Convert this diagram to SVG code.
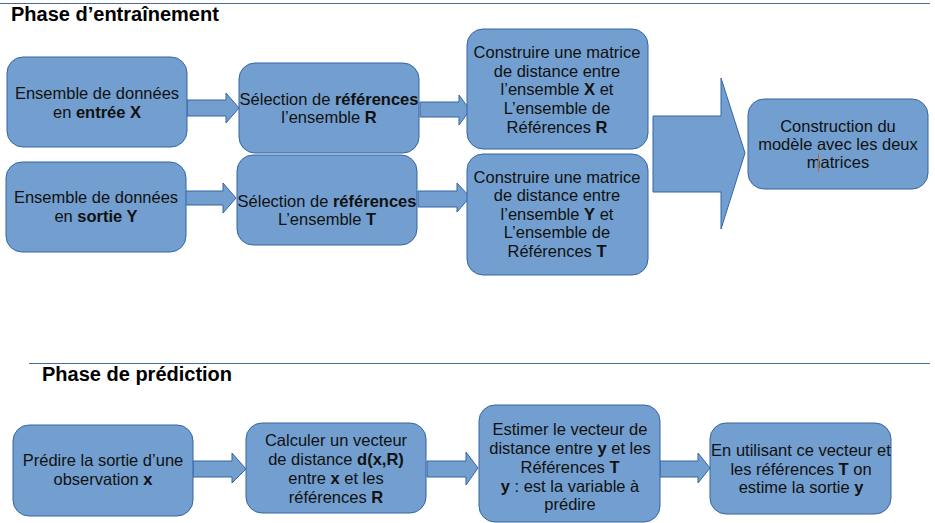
<svg xmlns="http://www.w3.org/2000/svg" width="935" height="523" viewBox="0 0 935 523">
<style>
  .box { fill: #729fcf; stroke: #3465a4; stroke-width: 1; }
  .arr { fill: #729fcf; stroke: #3465a4; stroke-width: 1; stroke-linejoin: miter; }
  .t { font-family: "Liberation Sans", Arial, sans-serif; font-size: 16.5px; fill: #111; text-anchor: middle; }
  .h { font-family: "Liberation Sans", Arial, sans-serif; font-size: 20px; font-weight: bold; fill: #000; }
  .b { font-weight: bold; }
  .rule { stroke: #4a6a9a; stroke-width: 1; }
</style>
<rect width="935" height="523" fill="#ffffff"/>

<line class="rule" x1="0" y1="3.5" x2="930" y2="3.5"/>
<text class="h" x="11" y="21">Phase d’entraînement</text>
<line class="rule" x1="29" y1="363.5" x2="930" y2="363.5"/>
<text class="h" x="42" y="381">Phase de prédiction</text>

<g id="connectors">
  <path class="arr" d="M187,100 H226 V93 L239,108 L226,123 V116 H187 Z"/>
  <path class="arr" d="M184,191 H223 V183 L236,198 L223,213 V205 H184 Z"/>
  <path class="arr" d="M420,102 H459 V95 L470,110 L459,125 V117 H420 Z"/>
  <path class="arr" d="M418,191 H457 V183 L470,197 L457,212 V207 H418 Z"/>
  <path class="arr" d="M653,116 H721 V78 L745,153 L721,229 V192 H653 Z"/>
  <path class="arr" d="M193,461 H232 V453 L246,469 L232,483 V477 H193 Z"/>
  <path class="arr" d="M427,461 H466 V452 L478,468 L466,485 V477 H427 Z"/>
  <path class="arr" d="M660,461 H698 V453 L710,468 L698,483 V477 H660 Z"/>
</g>

<g id="n1">
  <rect class="box" x="7" y="57" width="180" height="90" rx="16"/>
  <text class="t" x="97" y="99">Ensemble de données</text>
  <text class="t" x="97" y="118">en <tspan class="b">entrée X</tspan></text>
</g>
<g id="n2">
  <rect class="box" x="239" y="63" width="180" height="90" rx="16"/>
  <text class="t" x="329" y="105">Sélection de <tspan class="b">références</tspan></text>
  <text class="t" x="329" y="123">l’ensemble <tspan class="b">R</tspan></text>
</g>
<g id="n3">
  <rect class="box" x="6" y="162" width="180" height="90" rx="16"/>
  <text class="t" x="96" y="203">Ensemble de données</text>
  <text class="t" x="96" y="222">en <tspan class="b">sortie Y</tspan></text>
</g>
<g id="n4">
  <rect class="box" x="237" y="155" width="180" height="90" rx="16"/>
  <text class="t" x="327" y="207">Sélection de <tspan class="b">références</tspan></text>
  <text class="t" x="327" y="225">L’ensemble <tspan class="b">T</tspan></text>
</g>
<g id="n5">
  <rect class="box" x="467" y="29" width="181" height="120" rx="16"/>
  <text class="t" x="557" y="58">Construire une matrice</text>
  <text class="t" x="557" y="77">de distance entre</text>
  <text class="t" x="557" y="95">l’ensemble <tspan class="b">X</tspan> et</text>
  <text class="t" x="557" y="114">L’ensemble de</text>
  <text class="t" x="557" y="133">Références <tspan class="b">R</tspan></text>
</g>
<g id="n6">
  <rect class="box" x="467" y="154" width="181" height="121" rx="16"/>
  <text class="t" x="557" y="183">Construire une matrice</text>
  <text class="t" x="557" y="201">de distance entre</text>
  <text class="t" x="557" y="220">l’ensemble <tspan class="b">Y</tspan> et</text>
  <text class="t" x="557" y="238">L’ensemble de</text>
  <text class="t" x="557" y="257">Références <tspan class="b">T</tspan></text>
</g>
<g id="n7">
  <rect class="box" x="748" y="99" width="180" height="90" rx="16"/>
  <text class="t" x="838" y="132">Construction du</text>
  <text class="t" x="838" y="150">modèle avec les deux</text>
  <text class="t" x="838" y="168">matrices</text>
  <line x1="818.5" y1="154" x2="818.5" y2="172" stroke="#c8642a" stroke-width="1"/>
</g>

<g id="p1">
  <rect class="box" x="13" y="425" width="180" height="91" rx="16"/>
  <text class="t" x="103" y="466">Prédire la sortie d’une</text>
  <text class="t" x="103" y="485">observation <tspan class="b">x</tspan></text>
</g>
<g id="p2">
  <rect class="box" x="246" y="423" width="180" height="90" rx="16"/>
  <text class="t" x="336" y="446">Calculer un vecteur</text>
  <text class="t" x="336" y="465">de distance <tspan class="b">d(x,R)</tspan></text>
  <text class="t" x="336" y="484">entre <tspan class="b">x</tspan> et les</text>
  <text class="t" x="336" y="503">références <tspan class="b">R</tspan></text>
</g>
<g id="p3">
  <rect class="box" x="479" y="405" width="181" height="117" rx="16"/>
  <text class="t" x="570" y="435">Estimer le vecteur de</text>
  <text class="t" x="570" y="454">distance entre <tspan class="b">y</tspan> et les</text>
  <text class="t" x="570" y="473">Références <tspan class="b">T</tspan></text>
  <text class="t" x="570" y="492"><tspan class="b">y</tspan> : est la variable à</text>
  <text class="t" x="570" y="510">prédire</text>
</g>
<g id="p4">
  <rect class="box" x="710" y="423" width="181" height="91" rx="16"/>
  <text class="t" x="801" y="456">En utilisant ce vecteur et</text>
  <text class="t" x="801" y="475">les références <tspan class="b">T</tspan> on</text>
  <text class="t" x="801" y="493">estime la sortie <tspan class="b">y</tspan></text>
</g>
</svg>
